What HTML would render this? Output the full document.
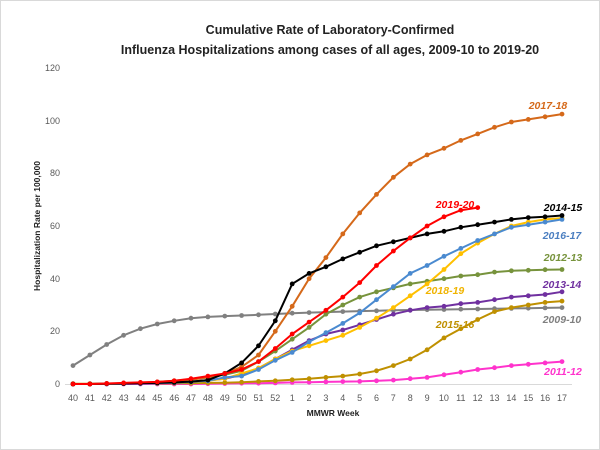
<!DOCTYPE html>
<html><head><meta charset="utf-8"><style>
html,body{margin:0;padding:0;background:#fff}
svg{display:block;font-family:"Liberation Sans",sans-serif}
</style></head><body>
<svg id="s" width="600" height="450" viewBox="0 0 600 450" xmlns="http://www.w3.org/2000/svg">
<rect x="0.5" y="0.5" width="599" height="449" fill="#fff" stroke="#d9d9d9"/>
<text x="330" y="34" text-anchor="middle" font-size="12.5" font-weight="bold" fill="#222">Cumulative Rate of Laboratory-Confirmed</text>
<text x="330" y="54" text-anchor="middle" font-size="12.5" font-weight="bold" fill="#222">Influenza Hospitalizations among cases of all ages, 2009-10 to 2019-20</text>
<g font-size="9" fill="#595959" text-anchor="end">
<text x="60" y="387">0</text><text x="60" y="334">20</text><text x="60" y="282">40</text><text x="60" y="229">60</text><text x="60" y="176">80</text><text x="60" y="124">100</text><text x="60" y="71">120</text>
</g>
<text transform="translate(40,226) rotate(-90)" text-anchor="middle" font-size="8.5" font-weight="bold" fill="#222">Hospitalization  Rate per 100,000</text>
<line x1="65" y1="384.5" x2="572" y2="384.5" stroke="#d9d9d9"/>
<g font-size="9" fill="#595959" text-anchor="middle">
<text x="73" y="401">40</text><text x="89.9" y="401">41</text><text x="106.7" y="401">42</text><text x="123.6" y="401">43</text><text x="140.4" y="401">44</text><text x="157.3" y="401">45</text><text x="174.2" y="401">46</text><text x="191" y="401">47</text><text x="207.9" y="401">48</text><text x="224.7" y="401">49</text><text x="241.6" y="401">50</text><text x="258.5" y="401">51</text><text x="275.3" y="401">52</text><text x="292.2" y="401">1</text><text x="309" y="401">2</text><text x="325.9" y="401">3</text><text x="342.8" y="401">4</text><text x="359.6" y="401">5</text><text x="376.5" y="401">6</text><text x="393.3" y="401">7</text><text x="410.2" y="401">8</text><text x="427.1" y="401">9</text><text x="443.9" y="401">10</text><text x="460.8" y="401">11</text><text x="477.6" y="401">12</text><text x="494.5" y="401">13</text><text x="511.4" y="401">14</text><text x="528.2" y="401">15</text><text x="545.1" y="401">16</text><text x="562" y="401">17</text>
</g>
<text x="333" y="416" text-anchor="middle" font-size="8.5" font-weight="bold" fill="#222">MMWR Week</text>
<g id="series"></g>
<g font-size="10.5" font-weight="bold" font-style="italic">
<text x="548" y="109" text-anchor="middle" fill="#d5691a">2017-18</text>
<text x="455" y="208" text-anchor="middle" fill="#ff0000">2019-20</text>
<text x="563" y="211" text-anchor="middle" fill="#000">2014-15</text>
<text x="562" y="239" text-anchor="middle" fill="#4a7ec0">2016-17</text>
<text x="563" y="261" text-anchor="middle" fill="#77933c">2012-13</text>
<text x="445" y="294" text-anchor="middle" fill="#f0b400">2018-19</text>
<text x="562" y="288" text-anchor="middle" fill="#7030a0">2013-14</text>
<text x="455" y="328" text-anchor="middle" fill="#bf9000">2015-16</text>
<text x="562" y="323" text-anchor="middle" fill="#7f7f7f">2009-10</text>
<text x="563" y="375" text-anchor="middle" fill="#ff33cc">2011-12</text>
</g>
</svg>
<script>
var S=[
["#808080",[7,11,15,18.5,21,22.8,24,25,25.5,25.8,26,26.3,26.6,26.9,27.1,27.3,27.5,27.7,27.8,28,28.1,28.2,28.3,28.4,28.5,28.6,28.7,28.8,28.9,29]],
["#ff33cc",[0,0,0,0,0,0,0,0,0.1,0.2,0.3,0.3,0.4,0.6,0.7,0.8,0.9,1,1.2,1.5,2,2.5,3.5,4.5,5.5,6.2,7,7.5,8,8.5]],
["#bf9000",[0.1,0.1,0.1,0.2,0.2,0.2,0.3,0.3,0.4,0.5,0.7,1,1.2,1.6,2,2.5,3,3.8,5,7,9.5,13,17.5,21,24.5,27.5,29,30,31,31.5]],
["#7030a0",[0,0,0.1,0.2,0.3,0.4,0.6,0.9,1.4,2,3.5,6,9.5,13,16.5,19,20.5,22.5,24.5,26.5,28,29,29.5,30.5,31,32,33,33.5,34,35]],
["#77933c",[0,0,0.1,0.3,0.5,0.8,1.2,1.8,2.5,3.5,5,8.5,12.5,17,21.5,26.5,30,33,35,36.5,38,39,40,41,41.5,42.5,43,43.2,43.4,43.5]],
["#ffc000",[0,0,0.1,0.2,0.3,0.4,0.6,0.8,1.2,2,4,6,9.5,12.5,14.5,16.5,18.5,21.5,25,29,33.5,38,43.5,49.5,53.5,57,60,61.5,62.5,63]],
["#4a8ad0",[0,0,0,0.1,0.2,0.3,0.5,0.8,1.2,2.5,3,5.5,9,12,16,19.5,23,27,32,37,42,45,48.5,51.5,54.5,57,59.5,60.5,61.5,62.5]],
["#d5691a",[0,0,0.1,0.2,0.4,0.6,1,1.6,2.5,4,6.5,11,20,29.5,40,48,57,65,72,78.5,83.5,87,89.5,92.5,95,97.5,99.5,100.5,101.5,102.5]],
["#000000",[0,0,0.1,0.2,0.3,0.4,0.6,0.9,1.5,4,8,14.5,24,38,42,44.5,47.5,50,52.5,54,55.5,57,58,59.5,60.5,61.5,62.5,63.2,63.5,64]],
["#ff0000",[0,0,0.2,0.4,0.6,0.8,1.2,2,3,4,5.5,8.5,13.5,19,23.5,28,33,38.5,45,50.5,55.5,60,63.5,66,67]]
];
var g=document.getElementById("series"),ns="http://www.w3.org/2000/svg",h="";
S.forEach(function(s){var pts=s[1].map(function(v,i){return [73+16.862*i,384-v*2.633]});
h+='<polyline fill="none" stroke="'+s[0]+'" stroke-width="2" points="'+pts.map(function(p){return p[0].toFixed(1)+","+p[1].toFixed(1)}).join(" ")+'"/>';
pts.forEach(function(p){h+='<circle cx="'+p[0].toFixed(1)+'" cy="'+p[1].toFixed(1)+'" r="2.4" fill="'+s[0]+'"/>'});});
g.innerHTML=h;
</script>
</body></html>
